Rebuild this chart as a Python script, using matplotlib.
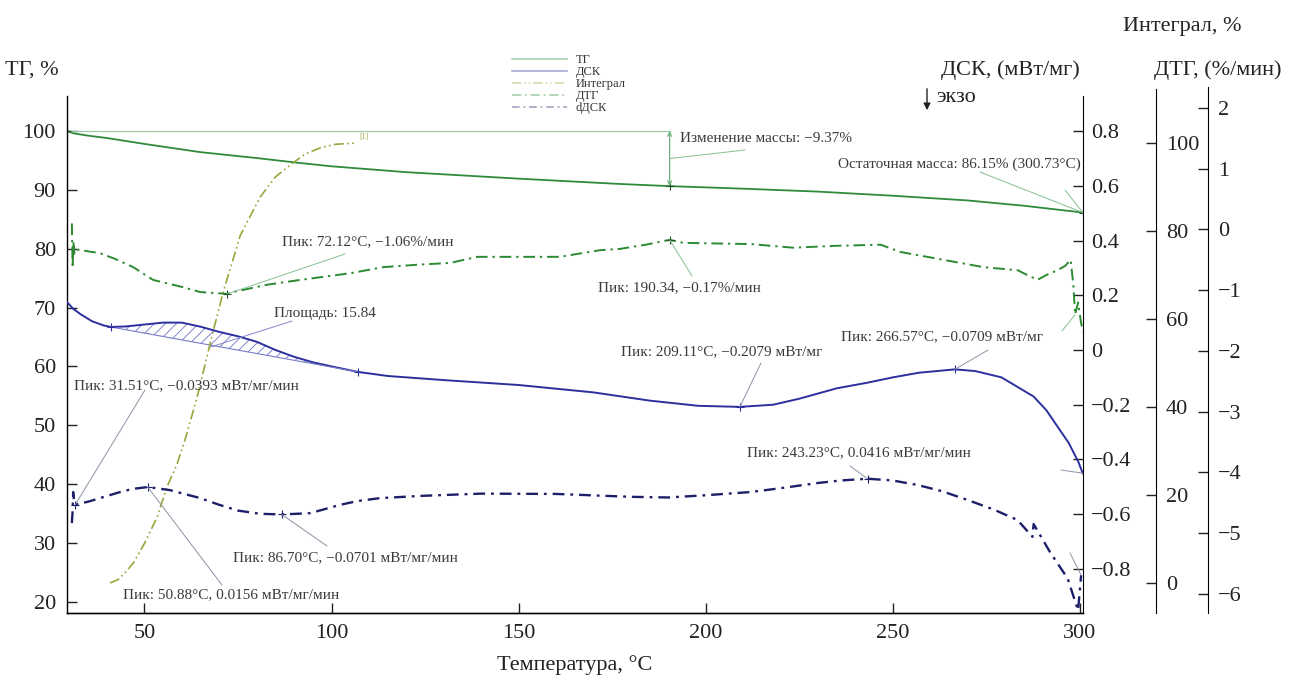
import numpy as np
import matplotlib
matplotlib.use('Agg')
from matplotlib import pyplot as plt
from matplotlib.ticker import FuncFormatter

plt.rcParams['font.family'] = ['Liberation Serif', 'DejaVu Serif']
plt.rcParams['hatch.linewidth'] = 0.6

# --- data --- #
# TG, %
tg_T = [29.3, 31, 35, 40, 50, 65, 80, 91, 100, 120, 150, 177, 190.34, 210, 230, 250, 270, 285, 300.73]
tg_v = [100, 99.6, 99.2, 98.8, 97.8, 96.4, 95.4, 94.6, 94.0, 93.0, 91.9, 91.0, 90.63, 90.2, 89.7, 89.0, 88.2, 87.3, 86.15]

# DTG, %/min
dtg_T = [30.6, 30.8, 31.0, 31.3, 32, 35, 38.1, 42, 47, 52.3, 60.3, 64.9, 72.12, 73.7, 82.7, 91.6,
         105, 113.8, 122.9, 131.7, 139, 150, 161, 171.8, 177, 184, 190.34, 194, 212, 223.4, 234,
         246.7, 252, 260.9, 274.2, 283.3, 288.6, 291, 294, 296, 297.5, 298.2, 298.7, 299.5, 300.2, 300.7]
dtg_v = [0.1, -0.63, -0.2, -0.4, -0.33, -0.36, -0.39, -0.48, -0.62, -0.83, -0.95, -1.03, -1.06, -1.03,
         -0.91, -0.83, -0.72, -0.62, -0.58, -0.55, -0.45, -0.45, -0.45, -0.34, -0.32, -0.25, -0.17,
         -0.22, -0.24, -0.30, -0.27, -0.25, -0.37, -0.47, -0.62, -0.67, -0.83, -0.75, -0.67, -0.6,
         -0.5, -0.9, -1.4, -1.2, -1.5, -1.68]

# DSC, mW/mg
dsc_T = [29.3, 31, 33, 36, 39, 41, 45, 50, 55, 60, 65, 70, 75, 80, 85, 90, 95, 100, 107, 115, 130,
         150, 170, 185, 198, 209.11, 218, 225, 235, 243, 250, 257, 266.57, 272, 279, 287.6, 291,
         294, 297, 299.6, 300.7]
dsc_v = [0.175, 0.15, 0.13, 0.105, 0.09, 0.084, 0.086, 0.093, 0.10, 0.10, 0.085, 0.066, 0.05, 0.03,
         0.0, -0.025, -0.045, -0.06, -0.08, -0.095, -0.11, -0.128, -0.155, -0.185, -0.204, -0.2079,
         -0.2, -0.178, -0.14, -0.12, -0.1, -0.083, -0.0709, -0.077, -0.10, -0.17, -0.22, -0.28,
         -0.34, -0.41, -0.45]
area_T = [41, 107]  # limits of the integrated peak

# Integral, %
int_T = [40.8, 43, 45, 47, 50, 53.4, 56, 58.7, 61, 64, 66, 68.3, 71, 75.6, 80.9, 85, 89.7, 93, 97, 101, 106.8]
int_v = [0, 0.8, 2.5, 4.5, 9, 15, 21.8, 27, 33, 42, 49, 57, 66, 79, 87.7, 92.3, 95.5, 97.5, 98.9, 99.7, 100]

# dDSC, mW/mg/min
dd_T = [30.6, 30.8, 30.95, 31.2, 31.51, 35, 38.1, 43.5, 47, 50.88, 56.8, 60, 64.9, 70, 75, 80.9, 86.7,
        94.3, 102.3, 107, 113, 124, 140, 160, 180, 190, 200, 212, 220, 229.8, 236, 243.23, 250,
        256.6, 263, 270, 277, 283.3, 287.3, 287.6, 292.1, 296.7, 299, 299.5, 300.0, 300.3]
dd_v = [-0.097, -0.06, 0.0, -0.03, -0.0393, -0.03, -0.019, 0.0, 0.01, 0.0156, 0.006, -0.004, -0.019,
        -0.04, -0.058, -0.068, -0.0701, -0.066, -0.04, -0.028, -0.019, -0.012, -0.005, -0.006,
        -0.015, -0.017, -0.01, 0.0, 0.012, 0.028, 0.036, 0.0416, 0.036, 0.022, 0.003, -0.025,
        -0.055, -0.0875, -0.14, -0.10, -0.19, -0.27, -0.353, -0.37, -0.3, -0.26]

# marked points
tg_marks = [29.3, 190.34, 300.73]
dtg_peaks = [72.12, 190.34]
dsc_peaks = [209.11, 266.57]
dd_peaks = [31.51, 50.88, 86.70, 243.23]

W, H = 1303, 684
fig = plt.figure(figsize=(W / 100, H / 100), dpi=100)
left, right, top, bottom = 67, 1083, 96, 613
ax = fig.add_axes([left / W, 1 - bottom / H, (right - left) / W, (bottom - top) / H])


def fpx(x, y):
    # pixel position (from top-left) -> figure fraction
    return (x / W, 1 - y / H)


tg_color = '#2f8a3c'
dtg_color = '#2b8a32'
dsc_color = '#2c2f9e'
dd_color = '#1d2068'
int_color = '#9aa63a'
txt_color = '#3a3a3a'
lead_gray = '#8a94a6'
lead_green = '#86bf90'
lead_blue = '#8486cc'

ax_dsc = ax.twinx()
ax_int = ax.twinx()
ax_dtg = ax.twinx()
ax_dd = ax.twinx()

ax.set_xlim(29.3, 300.8)
ax.set_ylim(18.13, 105.94)
ax_dsc.set_ylim(-0.961, 0.928)
ax_int.set_ylim(-6.82, 110.68)
ax_dtg.set_ylim(-6.313, 2.1975)
ax_dd.set_ylim(-0.378, 1.2375)
ax_dd.axis('off')

# --- curves --- #
l_tg, = ax.plot(tg_T, tg_v, color=tg_color, lw=1.3, label='ТГ')
l_dtg, = ax_dtg.plot(dtg_T, dtg_v, color=dtg_color, lw=1.4, dashes=(6, 2.5, 1.2, 2.5), label='ДТГ')
l_dsc, = ax_dsc.plot(dsc_T, dsc_v, color=dsc_color, lw=1.4, label='ДСК')
l_int, = ax_int.plot(int_T, int_v, color=int_color, lw=1.2, dashes=(6, 2, 1, 2, 1, 2), label='Интеграл')
l_dd, = ax_dd.plot(dd_T, dd_v, color=dd_color, lw=1.7, dashes=(5, 2.5, 1.2, 2.5), label='dДСК')

# mass change reference line and arrow
ax.plot([tg_T[0], tg_marks[1]], [tg_v[0], tg_v[0]], color='#9cc9a2', lw=0.9)
tg_at = np.interp(tg_marks, tg_T, tg_v)
ax.annotate('', xy=(tg_marks[1], tg_at[1]), xytext=(tg_marks[1], tg_v[0]),
            arrowprops=dict(arrowstyle='<->', color='#6fb07a', lw=0.9,
                            mutation_scale=7, shrinkA=0, shrinkB=0))
ax.plot(tg_marks, tg_at, '+', color='#1f4f25', ms=6, mew=0.8)

# DSC peak area (hatched) between curve and baseline
dsc_T_arr = np.array(dsc_T)
dsc_v_arr = np.array(dsc_v)
mask = (dsc_T_arr >= area_T[0]) & (dsc_T_arr <= area_T[1])
base_ends = np.interp(area_T, dsc_T, dsc_v)
base = np.interp(dsc_T_arr[mask], area_T, base_ends)
ax_dsc.fill_between(dsc_T_arr[mask], dsc_v_arr[mask], base, facecolor='none',
                    edgecolor='#6f72c4', hatch='///', linewidth=0)
ax_dsc.plot(area_T, base_ends, color='#7a7cc8', lw=0.8)
ax_dsc.plot(area_T, base_ends, '+', color=dsc_color, ms=6, mew=0.8)
ax_dsc.plot(dsc_peaks, np.interp(dsc_peaks, dsc_T, dsc_v), '+', color=dsc_color, ms=6, mew=0.8)

ax_dtg.plot(dtg_peaks, np.interp(dtg_peaks, dtg_T, dtg_v), '+', color='#1f4f25', ms=6, mew=0.8)
ax_dd.plot(dd_peaks, np.interp(dd_peaks, dd_T, dd_v), '+', color=dd_color, ms=6, mew=0.8)
ax_int.text(int_T[-1] + 0.5, int_v[-1] + 0.5, '[1]', color=int_color, fontsize=5.5, va='bottom')

# --- axes styling --- #
for a in (ax, ax_dsc, ax_int, ax_dtg):
    a.spines['top'].set_visible(False)
    a.tick_params(direction='in', length=7, width=1, labelsize=16, colors='#222222')
ax.spines['right'].set_visible(False)
for a in (ax_dsc, ax_int, ax_dtg):
    a.spines['left'].set_visible(False)
for sp in ax.spines.values():
    sp.set_linewidth(1.0)

ax.set_xticks([50, 100, 150, 200, 250, 300])
ax.set_yticks([20, 30, 40, 50, 60, 70, 80, 90, 100])
ax.tick_params(axis='y', pad=8)
ax.tick_params(axis='x', pad=8)

fmt = FuncFormatter(lambda v, p: ('%g' % v).replace('-', '\u2212'))
ax_dsc.set_yticks([-0.8, -0.6, -0.4, -0.2, 0, 0.2, 0.4, 0.6, 0.8])
ax_dsc.yaxis.set_major_formatter(fmt)
ax_dsc.tick_params(axis='y', pad=6)

ax_int.spines['right'].set_position(('axes', (1156 - left) / (right - left)))
ax_int.set_yticks([0, 20, 40, 60, 80, 100])
ax_int.spines['right'].set_bounds(-6.82, 112.27)
ax_int.tick_params(axis='y', pad=7)

ax_dtg.spines['right'].set_position(('axes', (1208 - left) / (right - left)))
ax_dtg.set_yticks([-6, -5, -4, -3, -2, -1, 0, 1, 2])
ax_dtg.yaxis.set_major_formatter(fmt)
ax_dtg.spines['right'].set_bounds(-6.313, 2.346)
ax_dtg.tick_params(axis='y', pad=7)

# --- axis titles --- #
fig.text(*fpx(5, 70), 'ТГ, %', fontsize=16, ha='left', va='center', color='#222222')
fig.text(*fpx(1010, 70), 'ДСК, (мВт/мг)', fontsize=16, ha='center', va='center', color='#222222')
fig.text(*fpx(1182, 27), 'Интеграл, %', fontsize=16, ha='center', va='center', color='#222222')
fig.text(*fpx(1218, 70), 'ДТГ, (%/мин)', fontsize=16, ha='center', va='center', color='#222222')
fig.text(*fpx(575, 665), 'Температура, °C', fontsize=16, ha='center', va='center', color='#222222')
fig.text(*fpx(936, 98), 'экзо', fontsize=16, ha='left', va='center', color='#222222')
fig.add_artist(matplotlib.patches.FancyArrowPatch(fpx(927, 86), fpx(927, 113), transform=fig.transFigure,
                                                  arrowstyle='-|>', mutation_scale=10, color='#222222', lw=1.0))

# --- annotations --- #
labels = [
    (ax_dtg, dtg_T, dtg_v, dtg_peaks[0], (345, 254), lead_green, 'Пик: 72.12°C, \u22121.06%/мин', (282, 242)),
    (ax_dtg, dtg_T, dtg_v, dtg_peaks[1], (692, 276), lead_green, 'Пик: 190.34, \u22120.17%/мин', (598, 288)),
    (ax, tg_T, tg_v, tg_marks[2], (980, 172), lead_green, 'Остаточная масса: 86.15% (300.73°C)', (838, 164)),
    (ax_dsc, dsc_T, dsc_v, dsc_peaks[0], (761, 363), lead_gray, 'Пик: 209.11°C, \u22120.2079 мВт/мг', (621, 352)),
    (ax_dsc, dsc_T, dsc_v, dsc_peaks[1], (988, 350), lead_gray, 'Пик: 266.57°C, \u22120.0709 мВт/мг', (841, 337)),
    (ax_dd, dd_T, dd_v, dd_peaks[0], (145, 390), lead_gray, 'Пик: 31.51°C, \u22120.0393 мВт/мг/мин', (74, 386)),
    (ax_dd, dd_T, dd_v, dd_peaks[1], (222, 585), lead_gray, 'Пик: 50.88°C, 0.0156 мВт/мг/мин', (123, 595)),
    (ax_dd, dd_T, dd_v, dd_peaks[2], (327, 546), lead_gray, 'Пик: 86.70°C, \u22120.0701 мВт/мг/мин', (233, 558)),
    (ax_dd, dd_T, dd_v, dd_peaks[3], (850, 466), lead_gray, 'Пик: 243.23°C, 0.0416 мВт/мг/мин', (747, 453)),
]
for a, xs, ys, t, end, col, s, pos in labels:
    a.annotate('', xy=(t, np.interp(t, xs, ys)), xytext=fpx(*end), textcoords='figure fraction',
               arrowprops=dict(arrowstyle='-', color=col, lw=0.7, shrinkA=0, shrinkB=0))
    fig.text(*fpx(*pos), s, fontsize=11, ha='left', va='center', color=txt_color)

# mass change label
ax.annotate('', xy=(tg_marks[1], (tg_v[0] + tg_at[1]) / 2), xytext=fpx(745, 150), textcoords='figure fraction',
            arrowprops=dict(arrowstyle='-', color=lead_green, lw=0.7, shrinkA=0, shrinkB=0))
fig.text(*fpx(680, 138), 'Изменение массы: \u22129.37%', fontsize=11, ha='left', va='center', color=txt_color)
ax.annotate('', xy=(tg_marks[2], tg_at[2]), xytext=fpx(1065, 190), textcoords='figure fraction',
            arrowprops=dict(arrowstyle='-', color=lead_green, lw=0.7, shrinkA=0, shrinkB=0))

# area label
ax_dsc.annotate('', xy=(67.5, 0.01), xytext=fpx(292, 321), textcoords='figure fraction',
                arrowprops=dict(arrowstyle='-', color=lead_blue, lw=0.7, shrinkA=0, shrinkB=0))
fig.text(*fpx(274, 313), 'Площадь: 15.84', fontsize=11, ha='left', va='center', color=txt_color)

# end-point leaders
ax_dsc.annotate('', xy=(dsc_T[-1], dsc_v[-1]), xytext=fpx(1061, 470), textcoords='figure fraction',
                arrowprops=dict(arrowstyle='-', color=lead_gray, lw=0.7, shrinkA=0, shrinkB=0))
ax_dd.annotate('', xy=(dd_T[-1], dd_v[-1]), xytext=fpx(1070, 553), textcoords='figure fraction',
               arrowprops=dict(arrowstyle='-', color=lead_gray, lw=0.7, shrinkA=0, shrinkB=0))
ax_dtg.annotate('', xy=(dtg_T[-4], dtg_v[-4]), xytext=fpx(1062, 331), textcoords='figure fraction',
                arrowprops=dict(arrowstyle='-', color=lead_green, lw=0.7, shrinkA=0, shrinkB=0))

# --- legend --- #
leg = fig.legend([l_tg, l_dsc, l_int, l_dtg, l_dd], ['ТГ', 'ДСК', 'Интеграл', 'ДТГ', 'dДСК'],
                 loc='upper left', bbox_to_anchor=fpx(512, 54), frameon=False, fontsize=9,
                 labelspacing=0, handlelength=4.4, handletextpad=0.7, borderpad=0, borderaxespad=0)
for h in leg.legend_handles:
    h.set_alpha(0.45)
    h.set_linewidth(1.1)
for t in leg.get_texts():
    t.set_color('#333333')

fig.savefig('out.png', dpi=100)
